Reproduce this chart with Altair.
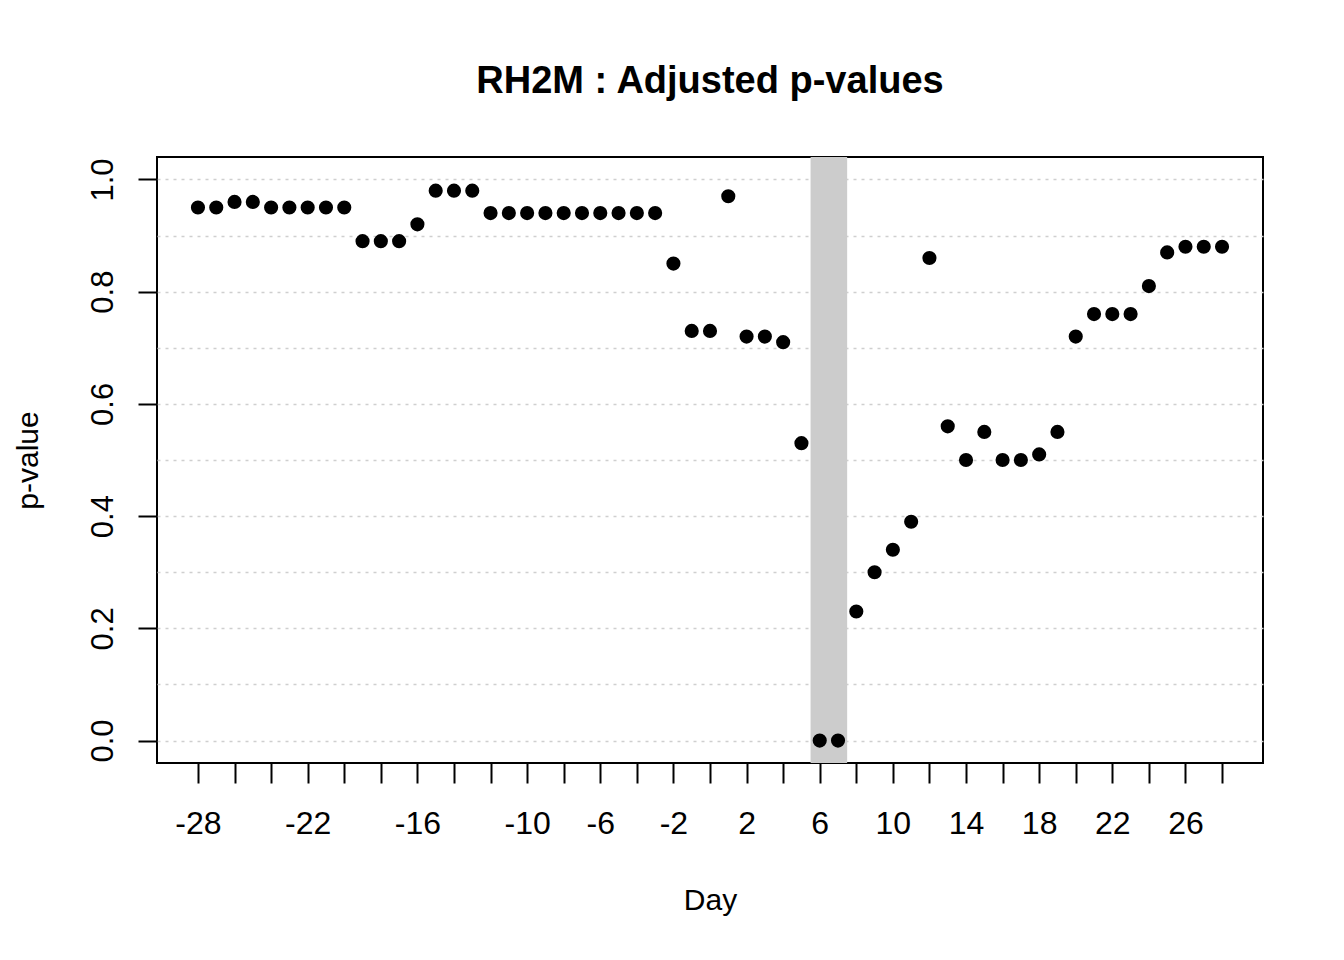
import altair as alt
import pandas as pd

# ---- data ----
days = list(range(-28, 29))
pvalues = [
    0.95, 0.95, 0.96, 0.96, 0.95, 0.95, 0.95, 0.95, 0.95,   # -28..-20
    0.89, 0.89, 0.89, 0.92, 0.98, 0.98, 0.98,               # -19..-13
    0.94, 0.94, 0.94, 0.94, 0.94, 0.94, 0.94, 0.94, 0.94,   # -12..-4
    0.94,                                                   # -3
    0.85, 0.73, 0.73, 0.97, 0.72, 0.72, 0.71, 0.53,         # -2..5
    0.00, 0.00, 0.23, 0.30, 0.34, 0.39, 0.86, 0.56,         # 6..13
    0.50, 0.55, 0.50, 0.50, 0.51, 0.55, 0.72, 0.76,         # 14..21
    0.76, 0.76, 0.81, 0.87, 0.88, 0.88, 0.88,               # 22..28
]
band_start = [5.5]
band_end = [7.5]

x_tick_values = list(range(-28, 29, 2))
x_label_values = [-28, -22, -16, -10, -6, -2, 2, 6, 10, 14, 18, 22, 26]
y_grid_values = [round(i / 10, 1) for i in range(0, 11)]

title_text = "RH2M : Adjusted p-values"
x_title = "Day"
y_title = "p-value"

df = pd.DataFrame({"day": days, "p": pvalues})
band_df = pd.DataFrame({"start": band_start, "end": band_end})

FONT = "Liberation Sans"
W, H = 1106, 606

x_scale = alt.Scale(domain=[-30.24, 30.24], nice=False, zero=False)
y_scale = alt.Scale(domain=[-0.04, 1.04], nice=False, zero=False)

label_list = ",".join(str(v) for v in x_label_values)

x_axis = alt.Axis(
    values=x_tick_values,
    labelExpr=f"indexof([{label_list}], datum.value) >= 0 ? toString(datum.value) : ''",
    grid=False,
    domain=False,
    ticks=True,
    tickSize=20,
    tickWidth=2,
    tickColor="black",
    labelFont=FONT,
    labelFontSize=32,
    labelColor="black",
    labelBaseline="alphabetic",
    labelPadding=50,
    labelOverlap=False,
    labelFlush=False,
    title=x_title,
    titleFont=FONT,
    titleFontSize=30,
    titleFontWeight="normal",
    titleColor="black",
    titleBaseline="alphabetic",
    titleAlign="center",
    titleX=W / 2,
    titleY=146,
)

y_axis = alt.Axis(
    values=y_grid_values,
    format=".1f",
    labelExpr="round(datum.value * 10) % 2 == 0 ? datum.label : ''",
    grid=True,
    gridColor="#CFCFCF",
    gridDash=[3, 5],
    gridWidth=1.5,
    domain=False,
    ticks=True,
    tickSize=19,
    tickWidth=2,
    tickColor="black",
    tickOpacity=alt.ExprRef("round(datum.value * 10) % 2 == 0 ? 1 : 0"),
    labelFont=FONT,
    labelFontSize=31,
    labelColor="black",
    labelAngle=270,
    labelAlign="center",
    labelBaseline="alphabetic",
    labelPadding=26,
    labelOverlap=False,
    labelFlush=False,
    title=y_title,
    titleFont=FONT,
    titleFontSize=30,
    titleFontWeight="normal",
    titleColor="black",
    titleAngle=270,
    titleBaseline="alphabetic",
    titleAlign="center",
    titleX=-120,
    titleY=H / 2,
)

band = alt.Chart(band_df).mark_rect(color="#CCCCCC").encode(
    x=alt.X("start:Q", scale=x_scale, axis=x_axis),
    x2="end:Q",
)

points = alt.Chart(df).mark_point(
    filled=True, color="black", size=200, opacity=1, strokeWidth=0
).encode(
    x=alt.X("day:Q", scale=x_scale, axis=x_axis),
    y=alt.Y("p:Q", scale=y_scale, axis=y_axis),
)

chart = alt.layer(band, points).properties(
    width=W,
    height=H,
    autosize=alt.AutoSizeParams(type="none"),
    padding={"left": 149, "top": 149, "right": 70, "bottom": 185},
    title=alt.TitleParams(
        text=title_text,
        font=FONT,
        fontSize=38,
        fontWeight="bold",
        color="black",
        anchor="middle",
        baseline="alphabetic",
        offset=26,
    ),
    background="white",
).configure_view(
    stroke="black",
    strokeWidth=2,
)

chart.save("out.html", embed_options={"renderer": "svg", "actions": False})
